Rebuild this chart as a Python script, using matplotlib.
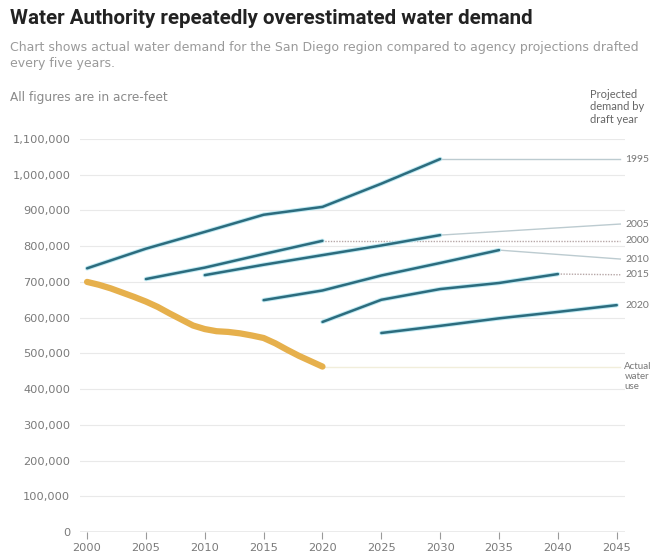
import numpy as np
import matplotlib.pyplot as plt

# actual water use (acre-feet)
actual_years = list(range(2000, 2021))
actual_vals = [700000, 692000, 682000, 670000, 658000, 645000, 630000, 612000, 595000,
               578000, 568000, 562000, 560000, 556000, 550000, 543000, 528000, 510000,
               493000, 478000, 463000]

# projections by draft year
proj_1995_years = [2000, 2005, 2010, 2015, 2020, 2025, 2030]
proj_1995_vals = [738000, 793000, 840000, 888000, 910000, 975000, 1044000]
proj_2000_years = [2005, 2010, 2015, 2020]
proj_2000_vals = [708000, 740000, 778000, 815000]
proj_2005_years = [2010, 2015, 2020, 2025, 2030]
proj_2005_vals = [719000, 748000, 775000, 802000, 831000]
proj_2010_years = [2015, 2020, 2025, 2030, 2035]
proj_2010_vals = [649000, 676000, 718000, 753000, 789000]
proj_2015_years = [2020, 2025, 2030, 2035, 2040]
proj_2015_vals = [588000, 650000, 680000, 697000, 722000]
proj_2020_years = [2025, 2030, 2035, 2040, 2045]
proj_2020_vals = [557000, 577000, 598000, 616000, 635000]

# (draft year, years, values, value where the thin extension ends, extension style)
projections = [
    ("1995", proj_1995_years, proj_1995_vals, 1044000, "-"),
    ("2005", proj_2005_years, proj_2005_vals, 862000, "-"),
    ("2000", proj_2000_years, proj_2000_vals, 815000, ":"),
    ("2010", proj_2010_years, proj_2010_vals, 764000, "-"),
    ("2015", proj_2015_years, proj_2015_vals, 720000, ":"),
    ("2020", proj_2020_years, proj_2020_vals, 635000, None),
]

yticks = list(range(0, 1100001, 100000))
xticks = list(range(2000, 2046, 5))

plt.rcParams['font.family'] = ['DejaVu Sans']

fig = plt.figure(figsize=(6.52, 5.56), dpi=100)
ax = fig.add_axes([80 / 652, 1 - 532 / 556, 545 / 652, (532 - 139) / 556])
ax.set_xlim(1999.4, 2045.7)
ax.set_ylim(0, 1100000)

# gridlines
for v in yticks[1:]:
    ax.axhline(v, color='#e9e9e9', lw=0.8, zorder=0)
ax.axhline(0, color='#9a9a9a', lw=1, zorder=1)

line_col = '#2c6c7e'
lab_font = ['Lato', 'DejaVu Sans']
for draft, yrs, vals, ext_end, style in projections:
    if style == ':':
        ax.plot([yrs[-1], 2045.3], [vals[-1], ext_end], color='#b7a7a7', lw=1, ls=(0, (1, 1)), zorder=2)
    elif style == '-':
        ax.plot([yrs[-1], 2045.3], [vals[-1], ext_end], color='#bccbd0', lw=1, zorder=2)
    ax.plot(yrs, vals, color='#bfe9f2', lw=3.2, solid_capstyle='round', zorder=3)
    ax.plot(yrs, vals, color=line_col, lw=1.8, solid_capstyle='round', zorder=4)
    ax.text(2045.75, ext_end, draft, fontsize=7.5, color='#777777', va='center', ha='left',
            clip_on=False, family=lab_font)

# actual
ax.plot([2020, 2045.3], [actual_vals[-1], actual_vals[-1]], color='#f1eedb', lw=1, zorder=2)
ax.plot(actual_years, actual_vals, color='#e6b04c', lw=4.5, solid_capstyle='round', zorder=5)
ax.text(2045.65, 476000, "Actual\nwater\nuse", fontsize=7, color='#777777', va='top', ha='left',
        linespacing=1.15, clip_on=False, family=lab_font)

ax.set_yticks(yticks)
ax.set_yticklabels([f"{v:,}" for v in yticks])
ax.set_xticks(xticks)
ax.tick_params(axis='y', length=0, labelsize=8.2, labelcolor='#7a7a7a', pad=7)
ax.tick_params(axis='x', length=5, color='#9a9a9a', labelsize=8.2, labelcolor='#7a7a7a', pad=3)
for s in ax.spines.values():
    s.set_visible(False)

fig.text(10 / 652, 1 - 18 / 556, "Water Authority repeatedly overestimated water demand",
         fontsize=14.8, fontweight='bold', color='#222222', va='center', family=['Roboto', 'DejaVu Sans'])
fig.text(10 / 652, 1 - 48 / 556,
         "Chart shows actual water demand for the San Diego region compared to agency projections drafted",
         fontsize=9, color='#9a9a9a', va='center')
fig.text(10 / 652, 1 - 64 / 556, "every five years.", fontsize=9, color='#9a9a9a', va='center')
fig.text(10 / 652, 1 - 97 / 556, "All figures are in acre-feet", fontsize=8.7, color='#8a8a8a', va='center')
fig.text(590 / 652, 1 - 89 / 556, "Projected\ndemand by\ndraft year", fontsize=8, color='#666666',
         va='top', ha='left', linespacing=1.15, family=lab_font)

fig.savefig('out.png', dpi=100)
